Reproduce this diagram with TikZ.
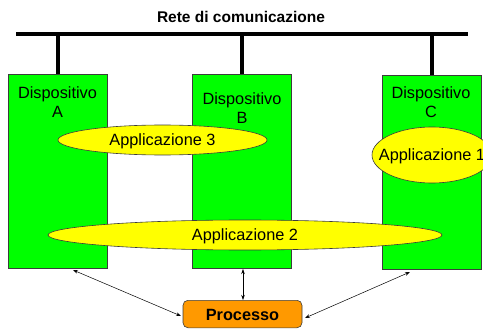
\documentclass[tikz,border=0pt]{standalone}
\usepackage{fontspec}
\setmainfont{Liberation Sans}
\usetikzlibrary{shapes.geometric,arrows.meta}
\definecolor{devgreen}{RGB}{0,255,0}
\definecolor{appyellow}{RGB}{255,255,0}
\definecolor{procorange}{RGB}{255,153,0}
\definecolor{edgegray}{RGB}{60,60,60}
\begin{document}
\begin{tikzpicture}[x=1pt,y=-1pt,
  device/.style={draw=edgegray,fill=devgreen,line width=0.6pt,minimum width=99pt,minimum height=194pt,inner sep=0pt},
  devlabel/.style={anchor=north,align=center,inner sep=0pt,font=\fontsize{16.3}{19}\selectfont},
  app/.style={ellipse,draw=edgegray,fill=appyellow,line width=0.6pt,inner sep=0pt},
  apptext/.style={inner sep=0pt,font=\fontsize{16.3}{19}\selectfont},
  proc/.style={draw=edgegray,fill=procorange,rounded corners=5pt,line width=0.6pt,minimum width=119pt,minimum height=27.5pt,inner sep=0pt},
  bus/.style={line width=4pt},
  link/.style={line width=0.5pt,{Stealth[length=5pt,width=3.5pt]}-{Stealth[length=5pt,width=3.5pt]}}
]
\useasboundingbox (0,0) rectangle (483,329);
\node[font=\bfseries\fontsize{15.5}{18}\selectfont] (title) at (241,17) {Rete di comunicazione};
\coordinate (busL) at (16,34);
\coordinate (busR) at (468,34);
\draw[bus] (busL) -- (busR);

\node[device] (A) at (57.5,171) {};
\node[device] (B) at (242,171) {};
\node[device] (C) at (431.5,172) {};

\draw[bus] (A.north |- busL) -- (A.north);
\draw[bus] (B.north |- busL) -- (B.north);
\draw[bus] (C.north |- busL) -- (C.north);

\node[devlabel] (Atext) at (57.5,86) {Dispositivo\\A};
\node[devlabel] (Btext) at (242,92) {Dispositivo\\B};
\node[devlabel] (Ctext) at (431,86) {Dispositivo\\C};

\node[app,minimum width=209pt,minimum height=30pt] (app3) at (162.5,140) {};
\node[apptext] (app3text) at (162.5,141) {Applicazione 3};
\node[app,minimum width=120pt,minimum height=56pt] (app1) at (432,155) {};
\node[apptext] (app1text) at (432,156) {Applicazione 1};
\node[app,minimum width=394pt,minimum height=30pt] (app2) at (245,235) {};
\node[apptext] (app2text) at (245,236) {Applicazione 2};

\node[proc,anchor=north] (P) at (242.5,300) {};
\node[font=\bfseries\fontsize{16.3}{19}\selectfont,inner sep=0pt] (Ptext) at (242.5,315) {Processo};

\coordinate (aA) at (73,270);
\coordinate (aP1) at (181,316);
\coordinate (aB) at (243,269);
\coordinate (aP2) at (243,300);
\coordinate (aC) at (410,272);
\coordinate (aP3) at (305,318);
\draw[link] (aA) -- (aP1);
\draw[link] (aB) -- (aP2);
\draw[link] (aC) -- (aP3);
\end{tikzpicture}
\end{document}
